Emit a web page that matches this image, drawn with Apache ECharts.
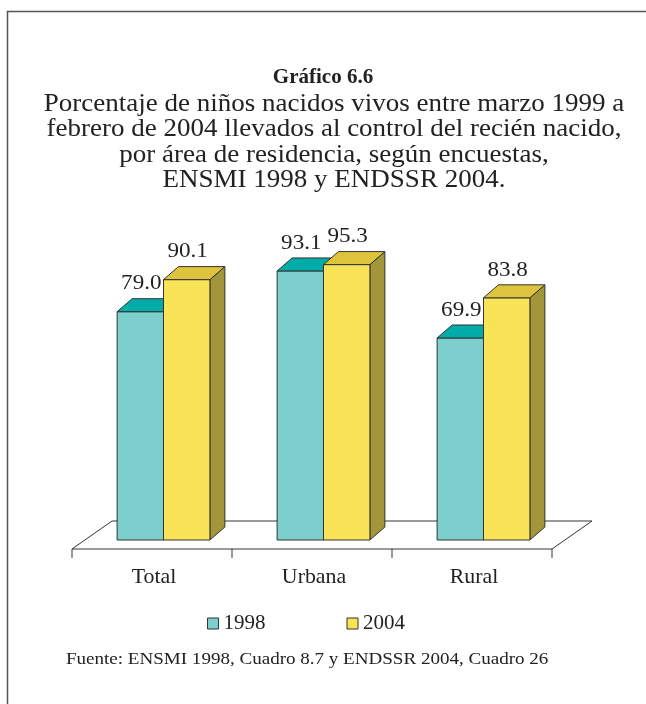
<!DOCTYPE html>
<html>
<head>
<meta charset="utf-8">
<script src="https://cdn.jsdelivr.net/npm/echarts@6/dist/echarts.min.js"></script>
<style>
  html, body { margin: 0; padding: 0; background: #fff; }
  #chart { width: 646px; height: 704px; }
</style>
</head>
<body>
<div id="chart"></div>
<script>
// Data
const categories = ['Total', 'Urbana', 'Rural'];
const seriesNames = ['1998', '2004'];
const values1998 = [79.0, 93.1, 69.9];
const values2004 = [90.1, 95.3, 83.8];

// Texts
const titleText = 'Gráfico 6.6';
const subtitleLines = [
  'Porcentaje de niños nacidos vivos entre marzo 1999 a',
  'febrero de 2004 llevados al control del recién nacido,',
  'por área de residencia, según encuestas,',
  'ENSMI 1998 y ENDSSR 2004.'
];
const sourceText = 'Fuente: ENSMI 1998, Cuadro 8.7 y ENDSSR 2004, Cuadro 26';

// Styling
const FONT = "'Liberation Serif', 'Times New Roman', serif";
const INK = '#222222';
const EDGE = '#333333';
const palette = [
  { front: '#7CCFCC', top: '#00ABA8', side: '#4E9E9B' },
  { front: '#F9E356', top: '#DEC43D', side: '#A3953A' }
];
// pseudo-3D offsets (pixels)
const BAR_DX = 15, BAR_DY = -13;
const FLOOR_FRONT = [-13, 9], FLOOR_BACK = [27, -19];

function barRenderer(k) {
  const col = palette[k];
  return function (params, api) {
    const ci = api.value(0), v = api.value(1);
    const base = api.coord([ci, 0]);
    const top = api.coord([ci, v]);
    const band = api.size([1, 0])[0];
    const w = band * 0.29;
    const cx = base[0] - 1.5;
    const x0 = cx + (k - 1) * w, x1 = x0 + w;
    const yb = base[1], yt = top[1];
    const line = { stroke: EDGE, lineWidth: 1 };
    return {
      type: 'group',
      children: [
        { type: 'polygon', shape: { points: [[x1, yt], [x1 + BAR_DX, yt + BAR_DY], [x1 + BAR_DX, yb + BAR_DY], [x1, yb]] },
          style: Object.assign({ fill: col.side }, line) },
        { type: 'rect', shape: { x: x0, y: yt, width: w, height: yb - yt },
          style: Object.assign({ fill: col.front }, line) },
        { type: 'polygon', shape: { points: [[x0, yt], [x1, yt], [x1 + BAR_DX, yt + BAR_DY], [x0 + BAR_DX, yt + BAR_DY]] },
          style: Object.assign({ fill: col.top }, line) },
        { type: 'text', x: (x0 + x1) / 2 + 1, y: yt - 28, scaleX: 1.05,
          style: { text: v.toFixed(1), x: 0, y: 0,
            align: 'center', verticalAlign: 'middle', font: '22px ' + FONT, fill: INK } }
      ]
    };
  };
}

function floorRenderer(params, api) {
  const band = api.size([1, 0])[0];
  const c0 = api.coord([0, 0]);
  const xl = c0[0] - band / 2, xr = xl + band * categories.length, y = c0[1];
  const fl = [xl + FLOOR_FRONT[0], y + FLOOR_FRONT[1]];
  const fr = [xr + FLOOR_FRONT[0], y + FLOOR_FRONT[1]];
  const br = [xr + FLOOR_BACK[0], y + FLOOR_BACK[1]];
  const bl = [xl + FLOOR_BACK[0], y + FLOOR_BACK[1]];
  const children = [
    { type: 'polygon', shape: { points: [fl, fr, br, bl] }, style: { fill: '#fff', stroke: EDGE, lineWidth: 1 } }
  ];
  for (let i = 0; i <= categories.length; i++) {
    const tx = fl[0] + i * band;
    children.push({ type: 'line', shape: { x1: tx, y1: fl[1], x2: tx, y2: fl[1] + 9 }, style: { stroke: EDGE, lineWidth: 1 } });
  }
  categories.forEach(function (name, i) {
    children.push({ type: 'text', x: fl[0] + (i + 0.5) * band + 2, y: y + 37, scaleX: 1.04,
      style: { text: name, x: 0, y: 0,
        align: 'center', verticalAlign: 'middle', font: '21px ' + FONT, fill: INK } });
  });
  return { type: 'group', children: children };
}

// Heading lines, centred
const headingGraphics = subtitleLines.map(function (txt, i) {
  return {
    type: 'text', x: 334, y: 104.5 + i * 25.4, scaleX: 1.08, silent: true,
    style: { text: txt, x: 0, y: 0, align: 'center', verticalAlign: 'middle',
      font: '25px ' + FONT, fill: INK }
  };
});

const chart = echarts.init(document.getElementById('chart'), null, { renderer: 'canvas' });
chart.setOption({
  backgroundColor: '#fff',
  animation: false,
  title: [
    { text: titleText, left: 'center', top: 62,
      textStyle: { fontFamily: FONT, fontSize: 21, fontWeight: 'bold', color: INK } }
  ],
  legend: {
    left: 207, top: 613, itemWidth: 11, itemHeight: 11, itemGap: 81, padding: 0,
    icon: 'rect', selectedMode: false,
    textStyle: { fontFamily: FONT, fontSize: 21, color: INK },
    data: seriesNames.map(function (n, k) {
      return { name: n, itemStyle: { color: palette[k].front, borderColor: EDGE, borderWidth: 1 } };
    })
  },
  grid: { left: 85, width: 480, top: 251, bottom: 164 },
  xAxis: { type: 'category', data: categories, show: false },
  yAxis: { type: 'value', min: 0, max: 100, show: false },
  graphic: [
    { type: 'rect', shape: { x: 7.5, y: 11.5, width: 700, height: 800 },
      style: { fill: 'none', stroke: '#555', lineWidth: 1.5 }, silent: true },
    { type: 'text', x: 66, y: 660, scaleX: 1.19, silent: true,
      style: { text: sourceText, x: 0, y: 0, align: 'left', verticalAlign: 'middle',
        font: '16px ' + FONT, fill: INK } }
  ].concat(headingGraphics),
  series: [
    { type: 'custom', name: 'floor', renderItem: floorRenderer, data: [[0, 0]], z: 1, silent: true },
    { type: 'custom', name: seriesNames[0], renderItem: barRenderer(0), z: 2,
      itemStyle: { color: palette[0].front },
      data: values1998.map(function (v, i) { return [i, v]; }) },
    { type: 'custom', name: seriesNames[1], renderItem: barRenderer(1), z: 3,
      itemStyle: { color: palette[1].front },
      data: values2004.map(function (v, i) { return [i, v]; }) }
  ]
});
</script>
</body>
</html>
